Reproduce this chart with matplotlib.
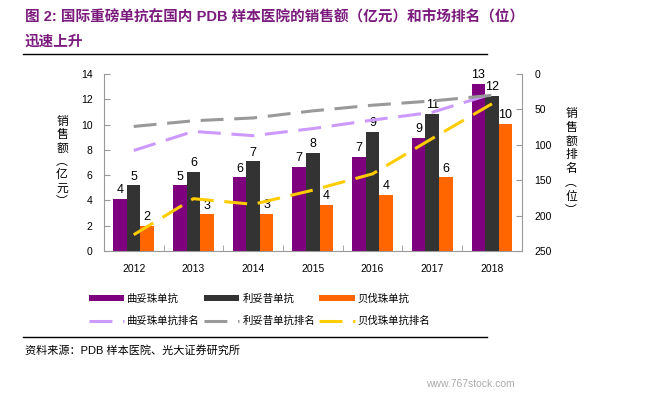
import matplotlib
matplotlib.use('Agg')
import matplotlib.pyplot as plt
from matplotlib.patches import Patch
from matplotlib.lines import Line2D
import numpy as np

plt.rcParams['font.family'] = ['Liberation Sans', 'Noto Sans CJK SC', 'DejaVu Sans']

years = ['2012', '2013', '2014', '2015', '2016', '2017', '2018']

# 销售额（亿元）
sales_qutuozhu = [4.14, 5.19, 5.82, 6.63, 7.45, 8.95, 13.24]
sales_lituoxi = [5.19, 6.27, 7.10, 7.77, 9.45, 10.87, 12.29]
sales_beifazhu = [1.97, 2.90, 2.97, 3.63, 4.45, 5.82, 10.08]

# 排名（位）
rank_qutuozhu = [108, 81, 87, 77, 65, 54, 28]
rank_lituoxi = [74, 66, 62, 52, 44, 38, 30]
rank_beifazhu = [227, 176, 184, 164, 141, 91, 42]

bar_names = ['曲妥珠单抗', '利妥昔单抗', '贝伐珠单抗']
line_names = ['曲妥珠单抗排名', '利妥昔单抗排名', '贝伐珠单抗排名']
bar_colors = ['#7F007F', '#333333', '#FF6600']
line_colors = ['#CC99FF', '#999999', '#FFCC00']

fig = plt.figure(figsize=(6.49, 3.96), dpi=100)
ax = fig.add_axes([0.160, 0.366, 0.644, 0.447])
ax2 = ax.twinx()

x = np.arange(len(years))
w = 0.227
sales = [sales_qutuozhu, sales_lituoxi, sales_beifazhu]
for i, (vals, c) in enumerate(zip(sales, bar_colors)):
    bars = ax.bar(x + (i - 1) * w, vals, width=w, color=c, zorder=2)
    for b, v in zip(bars, vals):
        ax.annotate(f'{round(v)}', (b.get_x() + b.get_width() / 2, v),
                    xytext=(0, 2), textcoords='offset points',
                    ha='center', va='bottom', fontsize=9, zorder=5)

ranks = [rank_qutuozhu, rank_lituoxi, rank_beifazhu]
for vals, c in zip(ranks, line_colors):
    ax2.plot(x, vals, color=c, lw=2.2, dashes=(7.5, 3.5), zorder=3)

ax.set_xlim(-0.5, 6.5)
ax.set_ylim(0, 14)
ax.set_yticks(range(0, 15, 2))
ax2.set_ylim(250, 0)
ax2.set_yticks(range(0, 251, 50))

ax.set_xticks(x)
ax.set_xticklabels(years, fontsize=7.5)
ax.set_xticks(np.arange(-0.5, 7, 1), minor=True)
ax.tick_params(axis='x', which='major', length=0, pad=9)
ax.tick_params(axis='x', which='minor', length=4, direction='in', color='#999999')
ax.tick_params(axis='y', length=4, direction='in', color='#999999', labelsize=7.5, pad=8)
ax2.tick_params(axis='y', length=4, direction='in', color='#999999', labelsize=7.5, pad=9)

for a in (ax, ax2):
    a.spines['top'].set_visible(False)
    for s in ('left', 'right', 'bottom'):
        a.spines[s].set_color('#999999')
ax.spines['right'].set_visible(False)
ax2.spines['left'].set_visible(False)
ax2.spines['bottom'].set_visible(False)
ax.set_zorder(ax2.get_zorder() - 1)
ax.patch.set_visible(False)
ax2.patch.set_visible(False)

# 竖排轴标题，逐字放置
for k, ch in enumerate('销售额︵亿元︶'):
    fig.text(62 / 649, 1 - (122 + 13.3 * k) / 396, ch, ha='center', va='center', fontsize=8.5)
for k, ch in enumerate('销售额排名︵位︶'):
    fig.text(571 / 649, 1 - (114 + 13.8 * k) / 396, ch, ha='center', va='center', fontsize=8.5)

handles = []
for bn, bc, ln, lc in zip(bar_names, bar_colors, line_names, line_colors):
    handles.append((Patch(facecolor=bc), bn))
    handles.append((Line2D([], [], color=lc, lw=2.2, dashes=(7.5, 3.5)), ln))
fig.legend([h for h, _ in handles], [l for _, l in handles], ncol=3,
           loc='center', bbox_to_anchor=(0.40, 0.218), frameon=False,
           fontsize=7.5, handlelength=3.4, handleheight=0.5, handletextpad=0.3,
           columnspacing=0.4, labelspacing=1.15)

# 标题
title_color = '#7B1B7D'
fig.text(25 / 649, 1 - 17 / 396, '图 2: 国际重磅单抗在国内 PDB 样本医院的销售额（亿元）和市场排名（位）',
         color=title_color, fontsize=10.5, fontweight='bold', va='center', ha='left')
fig.text(25 / 649, 1 - 42 / 396, '迅速上升', color=title_color, fontsize=10.5,
         fontweight='bold', va='center', ha='left')
fig.add_artist(Line2D([23 / 649, 487 / 649], [1 - 54 / 396] * 2, color='black', lw=1))
fig.add_artist(Line2D([23 / 649, 487 / 649], [1 - 337 / 396] * 2, color='black', lw=1))
fig.text(25 / 649, 1 - 350 / 396, '资料来源：PDB 样本医院、光大证券研究所', fontsize=8,
         va='center', ha='left')
fig.text(515 / 649, 1 - 384 / 396, 'www.767stock.com', fontsize=7.5, color='#AAAAAA',
         va='center', ha='right')

fig.savefig('out.png', dpi=100)
